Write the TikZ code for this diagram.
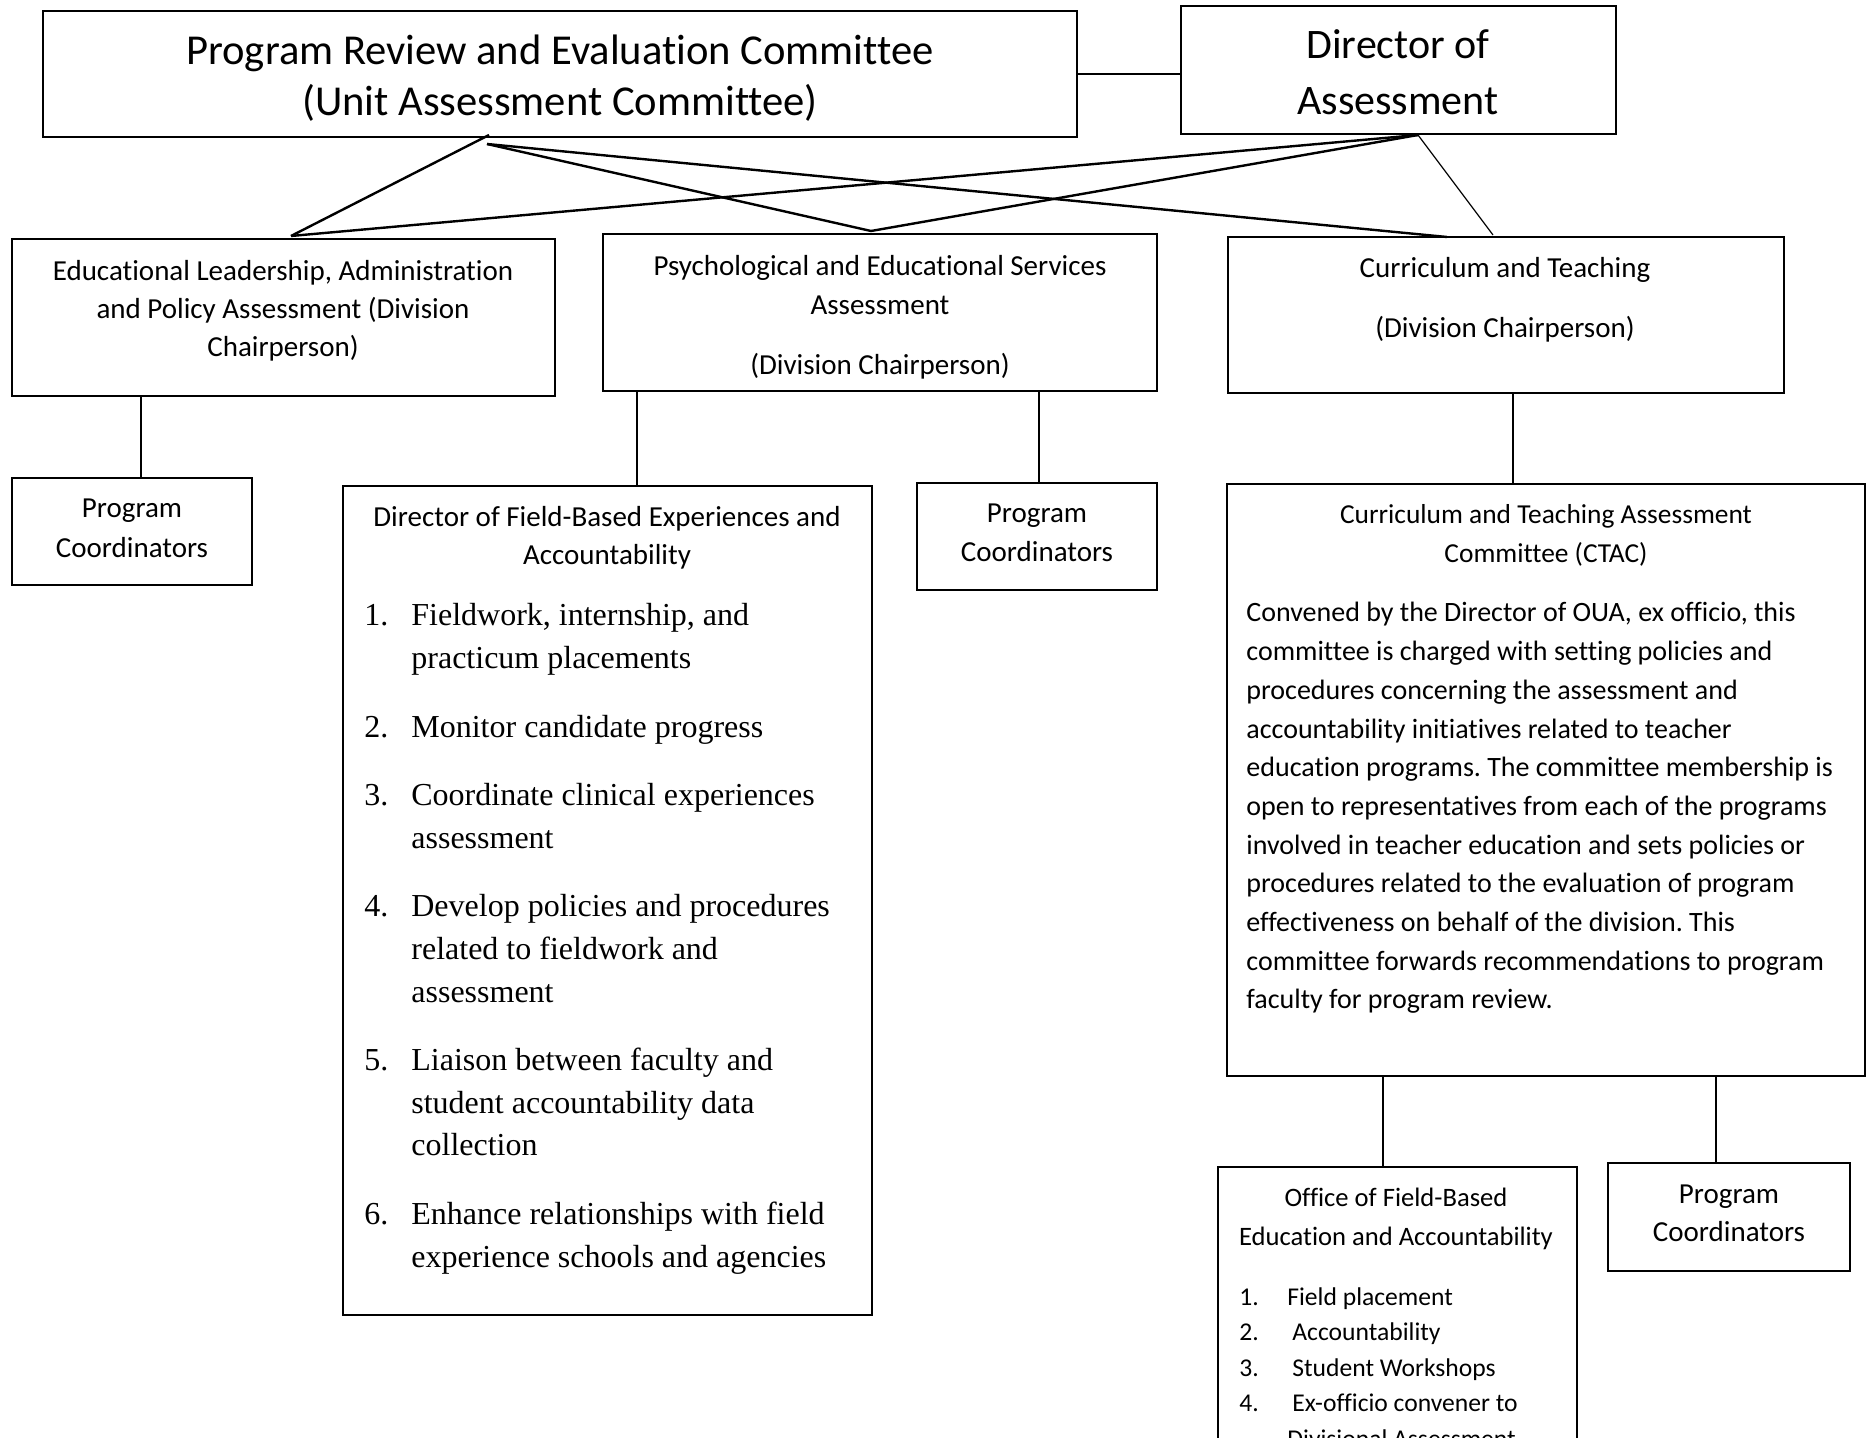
\documentclass[tikz,border=0pt]{standalone}
\usepackage{fontspec}
\setmainfont{Carlito}[Ligatures=NoCommon]
\newfontfamily\tnr{Liberation Serif}
\usetikzlibrary{fit}
\tikzset{
  box/.style={draw, line width=1.2pt, inner sep=0pt},
  link/.style={line width=1.2pt},
  thinlink/.style={line width=0.6pt},
  ctxt/.style={inner sep=0pt, anchor=base},
  ltxt/.style={inner sep=0pt, anchor=base west},
}
\frenchspacing
\begin{document}
\frenchspacing
\begin{tikzpicture}[x=0.5pt,y=-0.5pt]
\useasboundingbox (0,0) rectangle (1870,1438);
\fill[white] (0,0) rectangle (1870,1438);

% boxes
\node[box, fit={(43,11) (1077,137)}] (pr) {};
\node[box, fit={(1181,6) (1616,134)}] (da) {};
\node[box, fit={(12,239) (555,396)}] (el) {};
\node[box, fit={(603,234) (1157,391)}] (ps) {};
\node[box, fit={(1228,237) (1784,393)}] (ct) {};
\node[box, fit={(12,478) (252,585)}] (pc1) {};
\node[box, fit={(343,486) (872,1315)}] (df) {};
\node[box, fit={(917,483) (1157,590)}] (pc2) {};
\node[box, fit={(1227,484) (1865,1076)}] (ctac) {};
\node[box, fit={(1218,1167) (1577,1480)}] (of) {};
\node[box, fit={(1608,1163) (1850,1271)}] (pc3) {};

% texts
\node[ctxt] (prt) at (560,65) {\parbox[t]{520pt}{\centering\fontsize{21.3}{25.5}\selectfont Program Review and Evaluation Committee\\(Unit Assessment Committee)}};
\node[ctxt] (dat) at (1398,59) {\parbox[t]{200pt}{\centering\fontsize{21}{28}\selectfont Director of\\Assessment}};
\node[ctxt] (elt) at (283,280.5) {\parbox[t]{260pt}{\centering\fontsize{14.5}{19}\selectfont Educational Leadership, Administration\\and Policy Assessment (Division\\Chairperson)}};
\node[ctxt] (pst) at (880,275.5) {\parbox[t]{270pt}{\centering\fontsize{14.5}{19.5}\selectfont Psychological and Educational Services\\Assessment\\[10.5pt](Division Chairperson)}};
\node[ctxt] (ctt) at (1505,277.5) {\parbox[t]{270pt}{\centering\fontsize{14.5}{19.5}\selectfont Curriculum and Teaching\\[10.5pt](Division Chairperson)}};
\node[ctxt] (pc1t) at (132,517.5) {\parbox[t]{115pt}{\centering\fontsize{14.5}{20}\selectfont Program\\Coordinators}};
\node[ctxt] (pc2t) at (1037,523) {\parbox[t]{115pt}{\centering\fontsize{14.5}{19.5}\selectfont Program\\Coordinators}};
\node[ctxt] (pc3t) at (1729,1203.5) {\parbox[t]{115pt}{\centering\fontsize{14.5}{19}\selectfont Program\\Coordinators}};
\node[ctxt] (dfh) at (607,526.5) {\parbox[t]{260pt}{\centering\fontsize{14.5}{19}\selectfont Director of Field-Based Experiences and\\Accountability}};
\node[ltxt] (dfl) at (364,626) {\parbox[t]{252pt}{\raggedright\tnr\fontsize{16}{21.3}\selectfont
\makebox[23.5pt][l]{1.}Fieldwork, internship, and\\
\hspace*{23.5pt}practicum placements\\[13pt]
\makebox[23.5pt][l]{2.}Monitor candidate progress\\[13pt]
\makebox[23.5pt][l]{3.}Coordinate clinical experiences\\
\hspace*{23.5pt}assessment\\[13pt]
\makebox[23.5pt][l]{4.}Develop policies and procedures\\
\hspace*{23.5pt}related to fieldwork and\\
\hspace*{23.5pt}assessment\\[13pt]
\makebox[23.5pt][l]{5.}Liaison between faculty and\\
\hspace*{23.5pt}student accountability data\\
\hspace*{23.5pt}collection\\[13pt]
\makebox[23.5pt][l]{6.}Enhance relationships with field\\
\hspace*{23.5pt}experience schools and agencies}};
\node[ctxt] (ctach) at (1546,523.5) {\parbox[t]{300pt}{\centering\fontsize{13.7}{19.5}\selectfont Curriculum and Teaching Assessment\\Committee (CTAC)}};
\node[ltxt] (ctacb) at (1246,622) {\parbox[t]{320pt}{\raggedright\fontsize{14}{19.35}\selectfont
Convened by the Director of OUA, ex officio, this\\
committee is charged with setting policies and\\
procedures concerning the assessment and\\
accountability initiatives related to teacher\\
education programs. The committee membership is\\
open to representatives from each of the programs\\
involved in teacher education and sets policies or\\
procedures related to the evaluation of program\\
effectiveness on behalf of the division. This\\
committee forwards recommendations to program\\
faculty for program review.}};
\node[ctxt] (ofh) at (1396,1206.5) {\parbox[t]{175pt}{\centering\fontsize{13.3}{19.5}\selectfont Office of Field-Based\\Education and Accountability}};
\node[ltxt] (ofl) at (1239,1305) {\parbox[t]{160pt}{\raggedright\fontsize{12.8}{17.75}\selectfont
\makebox[24pt][l]{1.}Field placement\\
\makebox[26.5pt][l]{2.}Accountability\\
\makebox[26.5pt][l]{3.}Student Workshops\\
\makebox[26.5pt][l]{4.}Ex-officio convener to\\
\hspace*{24pt}Divisional Assessment}};

% connectors
\draw[link] (pr.east) -- (pr.east -| da.west);
\coordinate (prb) at (489,135);
\coordinate (prc) at (487,144);
\coordinate (dab) at (1418,135);
\coordinate (elTop) at (291,236);
\coordinate (psTop) at (871,231);
\coordinate (ctTopL) at (1447,237);
\coordinate (ctTopR) at (1493,235);
\draw[link] (prb) -- (elTop);
\draw[link] (prc) -- (psTop);
\draw[link] (prc) -- (ctTopL);
\draw[link] (dab) -- (elTop);
\draw[link] (dab) -- (psTop);
\draw[thinlink] (dab) -- (ctTopR);

\draw[link] (el.south -| 141,0) -- (pc1.north -| 141,0);
\draw[link] (ps.south -| 637,0) -- (df.north -| 637,0);
\draw[link] (ps.south -| 1039,0) -- (pc2.north -| 1039,0);
\draw[link] (ct.south -| 1513,0) -- (ctac.north -| 1513,0);
\draw[link] (ctac.south -| 1383,0) -- (of.north -| 1383,0);
\draw[link] (ctac.south -| 1716,0) -- (pc3.north -| 1716,0);
\end{tikzpicture}
\end{document}
